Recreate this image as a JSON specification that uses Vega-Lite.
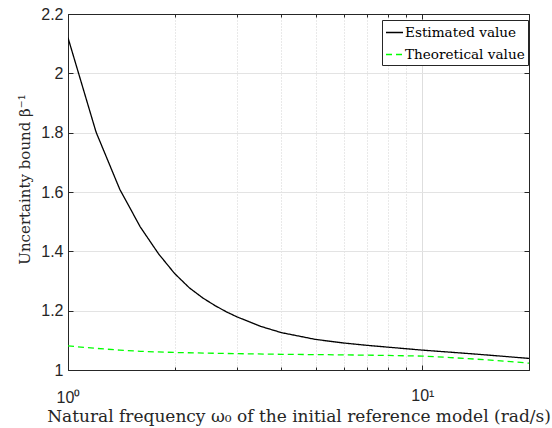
{
  "$schema": "https://vega.github.io/schema/vega-lite/v6.json",
  "width": 461,
  "height": 356,
  "autosize": {"type": "none"},
  "padding": {"left": 68, "top": 14, "right": 23, "bottom": 58},
  "background": "white",
  "config": {"view": {"stroke": "#262626", "strokeWidth": 1}},
  "data": {
    "values": [
      {"x": 1.0, "y": 2.120, "series": "Estimated value"},
      {"x": 1.2, "y": 1.802, "series": "Estimated value"},
      {"x": 1.4, "y": 1.609, "series": "Estimated value"},
      {"x": 1.6, "y": 1.482, "series": "Estimated value"},
      {"x": 1.8, "y": 1.392, "series": "Estimated value"},
      {"x": 2.0, "y": 1.325, "series": "Estimated value"},
      {"x": 2.2, "y": 1.277, "series": "Estimated value"},
      {"x": 2.4, "y": 1.243, "series": "Estimated value"},
      {"x": 2.6, "y": 1.217, "series": "Estimated value"},
      {"x": 2.8, "y": 1.196, "series": "Estimated value"},
      {"x": 3.0, "y": 1.179, "series": "Estimated value"},
      {"x": 3.5, "y": 1.147, "series": "Estimated value"},
      {"x": 4.0, "y": 1.126, "series": "Estimated value"},
      {"x": 5.0, "y": 1.103, "series": "Estimated value"},
      {"x": 6.0, "y": 1.091, "series": "Estimated value"},
      {"x": 7.0, "y": 1.083, "series": "Estimated value"},
      {"x": 8.0, "y": 1.077, "series": "Estimated value"},
      {"x": 10.0, "y": 1.067, "series": "Estimated value"},
      {"x": 12.0, "y": 1.060, "series": "Estimated value"},
      {"x": 14.0, "y": 1.054, "series": "Estimated value"},
      {"x": 17.0, "y": 1.046, "series": "Estimated value"},
      {"x": 20.0, "y": 1.039, "series": "Estimated value"},
      {"x": 1.0, "y": 1.081, "series": "Theoretical value"},
      {"x": 1.2, "y": 1.073, "series": "Theoretical value"},
      {"x": 1.4, "y": 1.067, "series": "Theoretical value"},
      {"x": 1.6, "y": 1.063, "series": "Theoretical value"},
      {"x": 2.0, "y": 1.059, "series": "Theoretical value"},
      {"x": 3.0, "y": 1.055, "series": "Theoretical value"},
      {"x": 4.0, "y": 1.053, "series": "Theoretical value"},
      {"x": 6.0, "y": 1.051, "series": "Theoretical value"},
      {"x": 8.0, "y": 1.049, "series": "Theoretical value"},
      {"x": 10.0, "y": 1.047, "series": "Theoretical value"},
      {"x": 12.0, "y": 1.042, "series": "Theoretical value"},
      {"x": 14.0, "y": 1.037, "series": "Theoretical value"},
      {"x": 17.0, "y": 1.030, "series": "Theoretical value"},
      {"x": 20.0, "y": 1.023, "series": "Theoretical value"}
    ]
  },
  "resolve": {"axis": {"x": "independent", "y": "independent"}},
  "layer": [
    {
      "mark": {"type": "line", "strokeWidth": 1.3, "clip": true},
      "encoding": {
        "x": {
          "field": "x", "type": "quantitative",
          "scale": {"type": "log", "domain": [1, 20], "nice": false},
          "axis": {
            "orient": "bottom",
            "values": [1, 2, 3, 4, 5, 6, 7, 8, 9, 10, 20],
            "labelExpr": "datum.value == 1 ? '10⁰' : (datum.value == 10 ? '10¹' : '')",
            "labelOverlap": false,
            "labelFlush": false,
            "labelFont": "Liberation Sans",
            "labelFontSize": 16,
            "labelColor": "#262626",
            "labelPadding": 22,
            "tickSize": {"condition": {"test": "datum.value == 10", "value": -5}, "value": -3},
            "tickColor": "#262626",
            "domainColor": "#262626",
            "grid": true,
            "gridColor": {"condition": {"test": "datum.value == 10", "value": "#dedede"}, "value": "#d2d2d2"},
            "gridDash": {"condition": {"test": "datum.value == 10", "value": []}, "value": [1, 2]},
            "title": "Natural frequency ω₀ of the initial reference model (rad/s)",
            "titleFont": "DejaVu Serif",
            "titleFontSize": 17,
            "titleFontWeight": "normal",
            "titleColor": "#262626",
            "titlePadding": 3
          }
        },
        "y": {
          "field": "y", "type": "quantitative",
          "scale": {"domain": [1, 2.2], "nice": false, "zero": false},
          "axis": {
            "orient": "left",
            "values": [1, 1.2, 1.4, 1.6, 1.8, 2, 2.2],
            "format": ".1~f",
            "labelFont": "Liberation Sans",
            "labelFontSize": 16,
            "labelColor": "#262626",
            "labelPadding": 10,
            "tickSize": -5,
            "tickColor": "#262626",
            "domainColor": "#262626",
            "grid": true,
            "gridColor": "#e3e3e3",
            "title": "Uncertainty bound β⁻¹",
            "titleFont": "DejaVu Serif",
            "titleFontSize": 15,
            "titleFontWeight": "normal",
            "titleColor": "#262626",
            "titleX": -36,
            "titleY": 165
          }
        },
        "color": {
          "field": "series", "type": "nominal",
          "scale": {"domain": ["Estimated value", "Theoretical value"], "range": ["#000000", "#00ff00"]},
          "legend": {
            "orient": "none", "legendX": 314, "legendY": 6,
            "title": null, "fillColor": "white", "strokeColor": "#262626",
            "padding": 3, "cornerRadius": 0,
            "labelFont": "DejaVu Serif", "labelFontSize": 13.6, "labelColor": "#000000",
            "symbolType": "stroke", "symbolSize": 289, "symbolStrokeWidth": 1.3,
            "labelOffset": 1, "rowPadding": 5
          }
        },
        "strokeDash": {
          "field": "series", "type": "nominal",
          "scale": {"domain": ["Estimated value", "Theoretical value"], "range": [[1, 0], [6, 4]]},
          "legend": {
            "orient": "none", "legendX": 314, "legendY": 6,
            "title": null, "fillColor": "white", "strokeColor": "#262626",
            "padding": 3, "cornerRadius": 0,
            "labelFont": "DejaVu Serif", "labelFontSize": 13.6, "labelColor": "#000000",
            "symbolType": "stroke", "symbolSize": 289, "symbolStrokeWidth": 1.3,
            "labelOffset": 1, "rowPadding": 5
          }
        }
      }
    },
    {
      "mark": {"type": "point", "opacity": 0},
      "encoding": {
        "x": {
          "field": "x", "type": "quantitative",
          "axis": {
            "orient": "top",
            "values": [1, 2, 3, 4, 5, 6, 7, 8, 9, 10, 20],
            "labels": false, "grid": false, "title": null,
            "tickSize": {"condition": {"test": "datum.value == 10", "value": -5}, "value": -3},
            "tickColor": "#262626", "domainColor": "#262626"
          }
        },
        "y": {
          "field": "y", "type": "quantitative",
          "axis": {
            "orient": "right",
            "values": [1, 1.2, 1.4, 1.6, 1.8, 2, 2.2],
            "labels": false, "grid": false, "title": null,
            "tickSize": -5,
            "tickColor": "#262626", "domainColor": "#262626"
          }
        }
      }
    }
  ]
}
